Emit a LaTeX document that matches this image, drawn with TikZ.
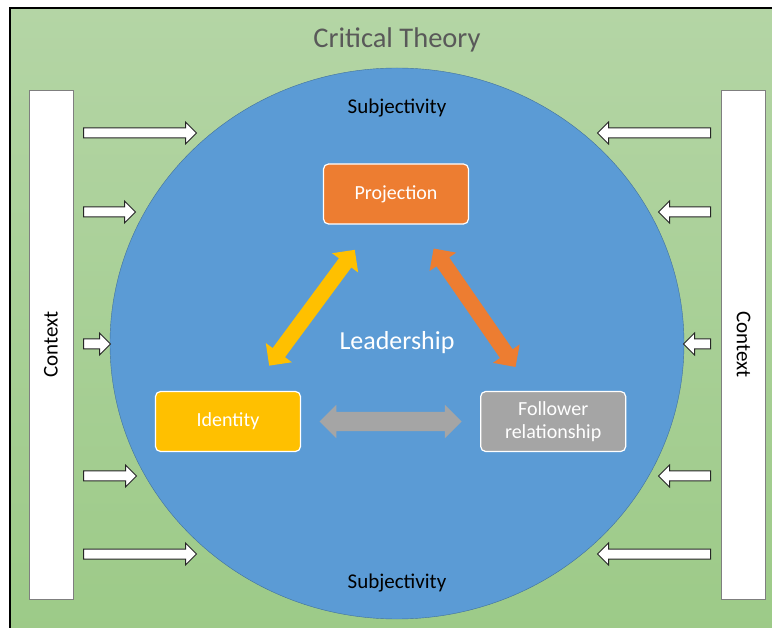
\documentclass[tikz,border=0pt]{standalone}
\usepackage{fontspec}
\setmainfont{Carlito}
\usetikzlibrary{positioning,shapes.geometric,shapes.arrows}
\definecolor{bgtop}{HTML}{B4D5A5}
\definecolor{bgbot}{HTML}{9CCA87}
\definecolor{circblue}{HTML}{5B9BD5}
\definecolor{circedge}{HTML}{41719C}
\definecolor{projorange}{HTML}{ED7D31}
\definecolor{identgold}{HTML}{FFC000}
\definecolor{followgray}{HTML}{A5A5A5}
\definecolor{titlegray}{HTML}{595959}
\definecolor{ctxgray}{HTML}{7F7F7F}

\begin{document}
\begin{tikzpicture}[x=1pt,y=-1pt,
    box/.style={draw=white,line width=1.2pt,rounded corners=5pt,minimum width=145pt,minimum height=60pt,text=white,align=center,font=\fontsize{20}{23}\selectfont},
    ctx/.style={draw=ctxgray,fill=white,minimum width=509pt,minimum height=44pt,inner sep=0pt,font=\fontsize{21}{25}\selectfont},
    push/.style={single arrow,draw=black!85,fill=white,line width=1pt,inner xsep=0pt,inner ysep=4.5pt,single arrow head extend=6pt},
    link/.style={double arrow,sloped,inner xsep=0pt,inner ysep=7.5pt,double arrow head extend=8.5pt}]
    \useasboundingbox (0,0) rectangle (772,628);
    \draw[line width=2pt,top color=bgtop,bottom color=bgbot] (10,8) rectangle (790,650);
    \node (title) [anchor=base,text=titlegray,font=\fontsize{28.5}{32}\selectfont] at (397,48) {Critical Theory};
    \node (circ) [ellipse,fill=circblue,draw=circedge,minimum width=574pt,minimum height=551pt,inner sep=0pt] at (397,343.5) {};
    \node (subjt) [anchor=base,font=\fontsize{21}{25}\selectfont] at (397,114) {Subjectivity};
    \node (subjb) [anchor=base,font=\fontsize{21}{25}\selectfont] at (397,588) {Subjectivity};
    \node (lead) [anchor=base,text=white,font=\fontsize{26}{30}\selectfont] at (397,350) {Leadership};
    \node (ctxl) [ctx,rotate=90] at (51,344.5) {Context};
    \node (ctxr) [ctx,rotate=-90] at (743.5,344.5) {Context};
    \foreach \y/\len [count=\i] in {133/113,212/52,344/27,476/53,554/113}
        \node (inl\i) [push,minimum height=\len pt,anchor=tail] at (83,\y) {};
    \foreach \y/\len [count=\i] in {133/113,212/52,344/27,476/52,554/113}
        \node (inr\i) [push,shape border rotate=180,minimum height=\len pt,anchor=tail] at (711,\y) {};
    \node (proj) [box,fill=projorange] at (396,194) {Projection};
    \node (ident) [box,fill=identgold] at (228,421.5) {Identity};
    \node (follow) [box,fill=followgray,right=179pt of ident] {Follower\\relationship};
    \path (ident) -- node (l1) [link,fill=identgold,minimum height=144pt] {} (proj);
    \path (proj) -- node (l2) [link,fill=projorange,minimum height=144pt] {} (follow);
    \path (ident) -- node (l3) [link,fill=followgray,minimum height=142pt,inner ysep=9.5pt,double arrow head extend=7pt] {} (follow);
\end{tikzpicture}
\end{document}
